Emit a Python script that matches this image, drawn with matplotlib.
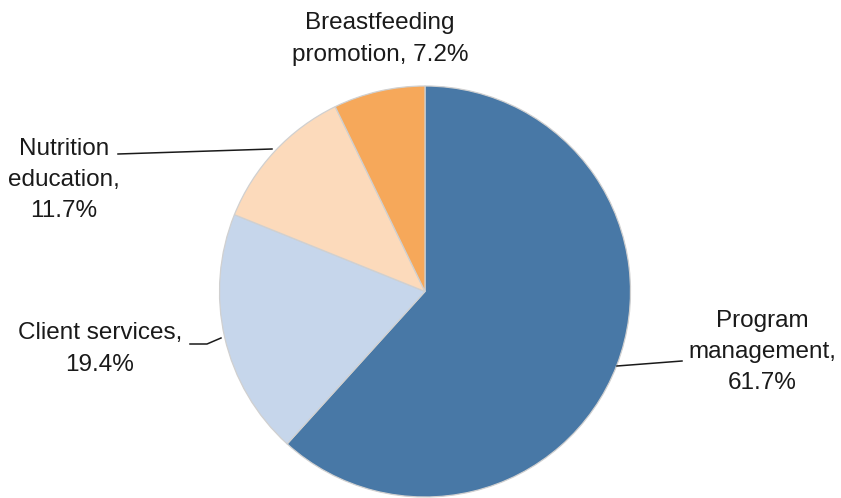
import matplotlib
matplotlib.use("Agg")
import matplotlib.pyplot as plt

# Shares of spending by function
categories = ["Program management", "Client services", "Nutrition education", "Breastfeeding promotion"]
shares = [61.7, 19.4, 11.7, 7.2]
label_lines = [
    ["Program", "management,", "61.7%"],
    ["Client services,", "19.4%"],
    ["Nutrition", "education,", "11.7%"],
    ["Breastfeeding", "promotion, 7.2%"],
]
colors = ["#4878A6", "#C6D6EB", "#FCDABB", "#F6A85A"]

plt.rcParams["font.family"] = ["Liberation Sans", "DejaVu Sans"]

W, H = 841, 498
fig = plt.figure(figsize=(W / 100, H / 100), dpi=100)
ax = fig.add_axes([0, 0, 1, 1])

cx, cy, r = 425, H - 291.5, 205.5
ax.pie(shares, colors=colors, startangle=90, counterclock=False,
       center=(cx, cy), radius=r, frame=True,
       wedgeprops=dict(edgecolor="#d0d0d0", linewidth=0.9))
ax.set_xlim(0, W)
ax.set_ylim(0, H)
ax.set_aspect("equal")
ax.axis("off")

fs = 17.5
# label anchor positions (centre of text block, top-down pixel coords)
label_pos = [(762, 352), (100, 349), (64, 180), (380, 39)]
for lines, (x, y) in zip(label_lines, label_pos):
    ax.text(x, H - y, "\n".join(lines), ha="center", va="center",
            fontsize=fs, color="#1a1a1a", linespacing=1.55)

# leader lines
leaders = [
    ([617, 682], [366, 361]),
    ([190, 207, 221], [344, 344, 338]),
    ([118, 272], [154, 149]),
]
for xs, ys in leaders:
    ax.plot(xs, [H - v for v in ys], color="#1a1a1a", linewidth=1.1)

fig.savefig("out.png", dpi=100)
